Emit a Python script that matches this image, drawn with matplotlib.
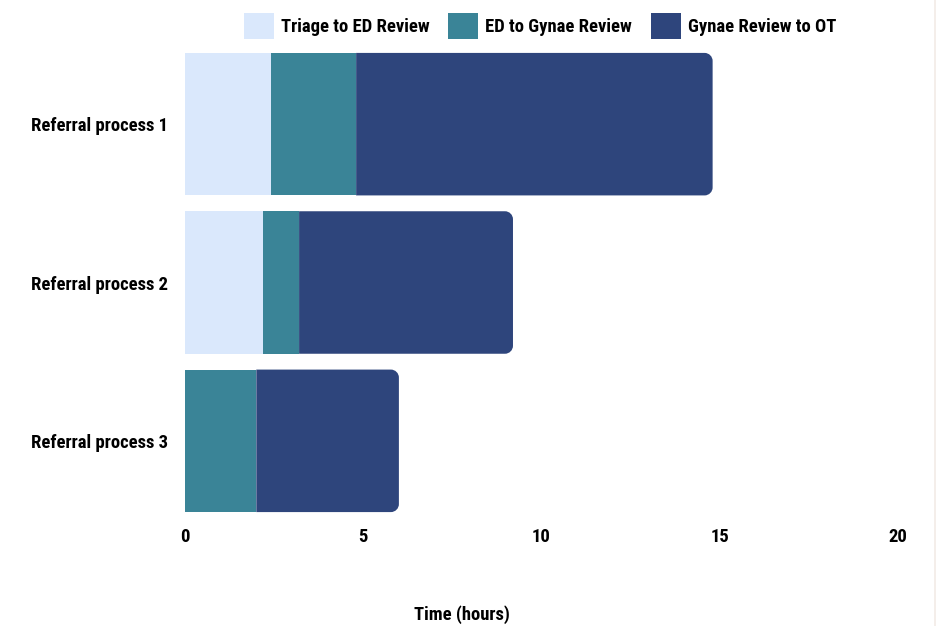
import matplotlib
matplotlib.use("Agg")
import matplotlib.pyplot as plt
from matplotlib.path import Path
from matplotlib.patches import PathPatch, Rectangle
from matplotlib import font_manager as fm

categories = ["Referral process 1", "Referral process 2", "Referral process 3"]
series_names = ["Triage to ED Review", "ED to Gynae Review", "Gynae Review to OT"]
triage_to_ed = [2.4, 2.2, 0.0]
ed_to_gynae = [2.4, 1.0, 2.0]
gynae_to_ot = [10.0, 6.0, 4.0]
colors = ["#dae8fc", "#3a8497", "#2e457c"]
xticks = [0, 5, 10, 15, 20]

avail = {f.name for f in fm.fontManager.ttflist}
fams = [f for f in ["Roboto Condensed", "DejaVu Sans"] if f in avail]
plt.rcParams['font.family'] = fams
stretch = 'condensed'
FS = 13.4

W, H = 937, 626
fig = plt.figure(figsize=(W / 100, H / 100), dpi=100)
ax = fig.add_axes([185 / W, 1 - 520 / H, (898 - 185) / W, (520 - 45) / H])
ax.set_xlim(0, 20)
ax.set_ylim(2.5, -0.5)

bh = 0.9
series = [triage_to_ed, ed_to_gynae, gynae_to_ot]
px_per_x = (898 - 185) / 20
px_per_y = (520 - 45) / 3
r_px = 8
rx = r_px / px_per_x
ry = r_px / px_per_y
k = 0.5523

for i, cat in enumerate(categories):
    left = 0.0
    for s, vals in enumerate(series):
        v = vals[i]
        if v <= 0:
            continue
        if s < len(series) - 1:
            ax.barh(i, v, left=left, height=bh, color=colors[s], linewidth=0)
        else:
            x0, x1 = left, left + v
            y0, y1 = i - bh / 2, i + bh / 2
            verts = [
                (x0, y0), (x1 - rx, y0),
                (x1 - rx + k * rx, y0), (x1, y0 + ry - k * ry), (x1, y0 + ry),
                (x1, y1 - ry),
                (x1, y1 - ry + k * ry), (x1 - rx + k * rx, y1), (x1 - rx, y1),
                (x0, y1), (x0, y0),
            ]
            codes = [Path.MOVETO, Path.LINETO,
                     Path.CURVE4, Path.CURVE4, Path.CURVE4,
                     Path.LINETO,
                     Path.CURVE4, Path.CURVE4, Path.CURVE4,
                     Path.LINETO, Path.CLOSEPOLY]
            ax.add_patch(PathPatch(Path(verts, codes), facecolor=colors[s], edgecolor='none'))
        left += v

for sp in ax.spines.values():
    sp.set_visible(False)
ax.set_xticks(xticks)
ax.set_xticklabels([str(t) for t in xticks], fontsize=FS, fontweight='bold', fontstretch=stretch)
ax.set_yticks(range(len(categories)))
ax.set_yticklabels(categories, fontsize=FS, fontweight='bold', fontstretch=stretch)
ax.tick_params(axis='both', length=0)
ax.tick_params(axis='x', pad=6)
ax.tick_params(axis='y', pad=12)

fig.text(462 / W, 1 - 615 / H, "Time (hours)", ha='center', va='center',
         fontsize=FS, fontweight='bold', fontstretch=stretch)

fpx = FS * 100 / 72
handles = [Rectangle((0, 0), 1, 1, facecolor=c, edgecolor='none') for c in colors]
leg = fig.legend(handles, series_names, loc='center', bbox_to_anchor=(540 / W, 1 - 26 / H),
                 ncol=3, frameon=False, handlelength=30 / fpx, handleheight=32 / fpx,
                 handletextpad=7 / fpx, columnspacing=19 / fpx, borderpad=0, borderaxespad=0,
                 prop={'size': FS, 'weight': 'bold', 'stretch': stretch})

fig.patches.append(Rectangle((1 - 3 / W, 0), 3 / W, 1, transform=fig.transFigure,
                             facecolor='#f4eeea', edgecolor='none'))

fig.savefig("out.png", dpi=100)
